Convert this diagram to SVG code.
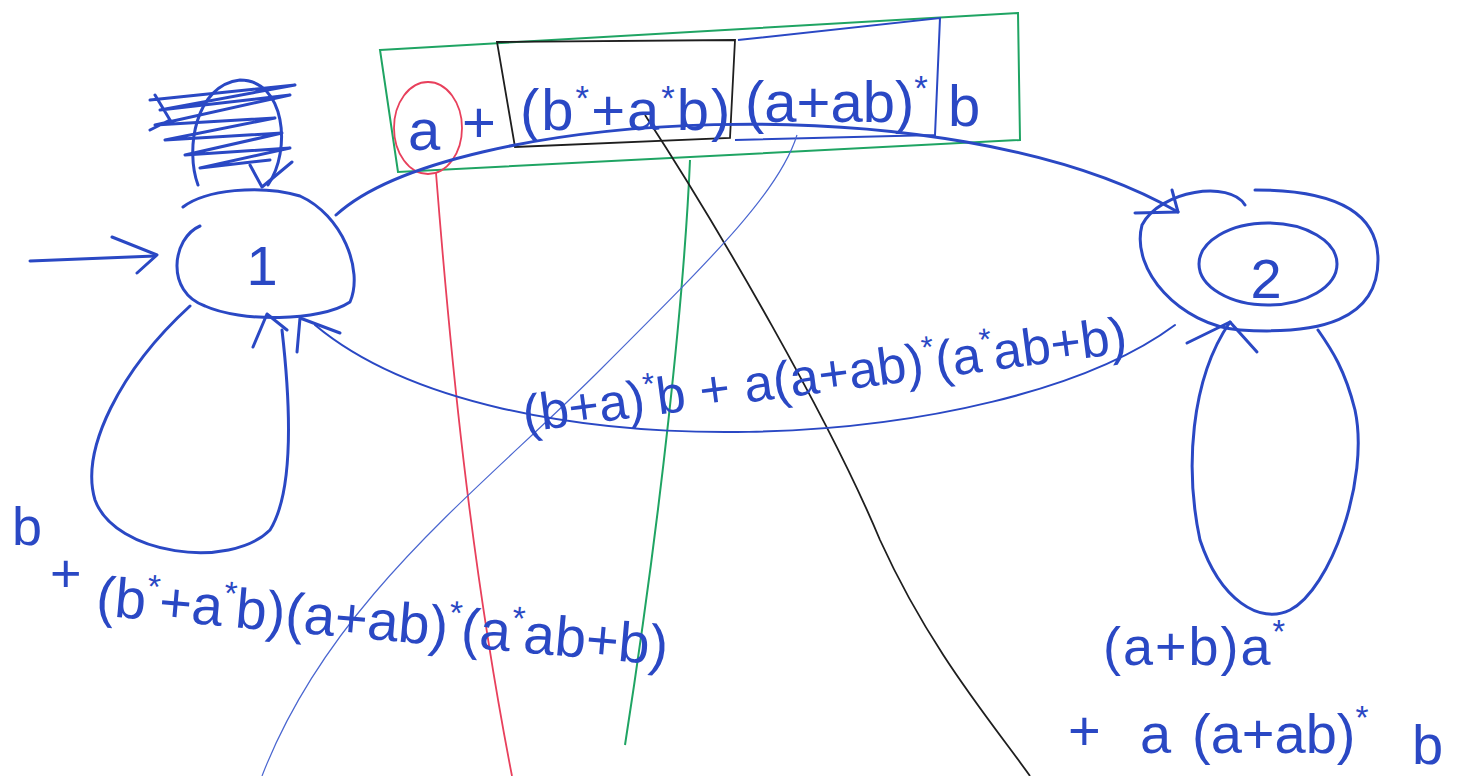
<svg xmlns="http://www.w3.org/2000/svg" width="1461" height="776" viewBox="0 0 1461 776">
<style>
.pen{fill:none;stroke:#2a48c4;stroke-width:3;stroke-linecap:round;stroke-linejoin:round}
.thin{fill:none;stroke:#4a66d0;stroke-width:1.2}
.red{fill:none;stroke:#e8405c;stroke-width:1.8}
.grn{fill:none;stroke:#1fa463;stroke-width:2}
.blk{fill:none;stroke:#1e1e1e;stroke-width:1.8}
.lbl{font-family:"Liberation Sans",Arial,sans-serif;fill:#2a48c4}
.sup{font-size:60%}
</style>
<rect width="1461" height="776" fill="#ffffff"/>
<g id="annotations">
<polygon class="grn" points="380,50 1018,13 1020,140 398,172"/>
<polygon class="blk" points="497,42 735,40 730,138 515,147"/>
<path class="thin" style="stroke:#2a48c4;stroke-width:2" d="M738,40 L940,18 L935,135 L735,140"/>
<ellipse class="red" cx="428" cy="128" rx="34" ry="46"/>
<path class="red" d="M436,173 C450,350 470,560 512,776"/>
<path class="grn" d="M690,160 C684,300 660,520 625,745"/>
<path class="blk" d="M645,115 C720,230 830,420 880,540 C930,650 990,720 1030,776"/>
<path class="thin" d="M797,135 C780,190 720,250 600,370 C480,490 330,600 262,776"/>
</g>
<g id="connectors">
<g id="edge-start">
<path class="pen" d="M30,261 L155,256"/>
<path class="pen" d="M112,237 L157,255 L137,273"/>
</g>
<g id="edge-1-1-top">
<path class="pen" d="M198,185 C185,150 195,85 240,80 C285,80 292,150 268,185"/>
<path class="pen" d="M250,165 L262,187 L292,162"/>
<path class="pen" d="M150,100 L295,85 L160,110 L290,95 L155,125 L275,118 L165,140 L282,133 L185,155 L290,148 L200,168 L270,160 M155,95 L170,120 L150,130"/>
</g>
<g id="edge-1-1">
<path class="pen" d="M190,306 C120,370 80,450 95,500 C115,555 230,570 270,530 C295,490 290,400 282,330"/>
<path class="pen" d="M253,347 L267,314 L287,330"/>
</g>
<g id="edge-1-2">
<path class="pen" d="M336,215 C450,110 950,80 1178,212"/>
<path class="pen" d="M1135,213 L1178,212 L1172,190"/>
</g>
<g id="edge-2-1">
<path class="pen" d="M1175,325 C1000,455 500,480 315,325" style="stroke-width:2"/>
<path class="pen" d="M297,352 L300,318 L340,333"/>
</g>
<g id="edge-2-2">
<path class="pen" d="M1230,322 C1190,380 1185,470 1200,540 C1220,600 1260,625 1290,610 C1330,590 1370,480 1355,410 C1345,370 1332,350 1318,330"/>
<path class="pen" d="M1187,343 L1230,322 L1257,352"/>
</g>
</g>
<g id="node-1">
<path class="pen" d="M200,226 C172,238 165,292 205,306 C240,322 320,322 350,302 C364,270 342,215 300,196 C260,184 205,190 183,207"/>
<text class="lbl" x="262" y="285" font-size="56" text-anchor="middle">1</text>
</g>
<g id="node-2">
<path class="pen" d="M1245,205 C1230,180 1160,190 1142,225 C1130,270 1180,325 1240,330 C1320,335 1378,320 1378,260 C1378,210 1330,190 1255,190"/>
<ellipse class="pen" cx="1268" cy="264" rx="69" ry="41"/>
<text class="lbl" x="1266" y="298" font-size="56" text-anchor="middle">2</text>
</g>
<g id="labels">
<text class="lbl" x="408" y="150" font-size="58">a</text>
<text class="lbl" x="462" y="142" font-size="58">+</text>
<text class="lbl" x="520" y="130" font-size="58" letter-spacing="2">(b<tspan class="sup" dy="-20">*</tspan><tspan dy="20">+a</tspan><tspan class="sup" dy="-20">*</tspan><tspan dy="20">b)</tspan></text>
<text class="lbl" x="745" y="122" font-size="58">(a+ab)<tspan class="sup" dy="-22">*</tspan></text>
<text class="lbl" x="948" y="126" font-size="58">b</text>
<text class="lbl" font-size="54"><tspan x="12" y="545">b</tspan><tspan x="50" y="592">+</tspan></text>
<text class="lbl" x="95" y="615" font-size="56" transform="rotate(5 95 615)">(b<tspan class="sup" dy="-22">*</tspan><tspan dy="22">+a</tspan><tspan class="sup" dy="-22">*</tspan><tspan dy="22">b)(a+ab)</tspan><tspan class="sup" dy="-22">*</tspan><tspan dy="22">(a</tspan><tspan class="sup" dy="-22">*</tspan><tspan dy="22">ab+b)</tspan></text>
<text class="lbl" x="525" y="432" font-size="52" transform="rotate(-7.5 525 432)">(b+a)<tspan class="sup" dy="-21">*</tspan><tspan dy="21">b + a(a+ab)</tspan><tspan class="sup" dy="-21">*</tspan><tspan dy="21">(a</tspan><tspan class="sup" dy="-21">*</tspan><tspan dy="21">ab+b)</tspan></text>
<text class="lbl" x="1103" y="665" font-size="54" letter-spacing="2">(a+b)a<tspan class="sup" dy="-22">*</tspan></text>
<text class="lbl" font-size="56"><tspan x="1068" y="750">+</tspan><tspan x="1140" y="753">a</tspan><tspan x="1192" y="753">(a+ab)</tspan><tspan class="sup" dy="-24">*</tspan><tspan x="1412" y="764">b</tspan></text>
</g>
</svg>
